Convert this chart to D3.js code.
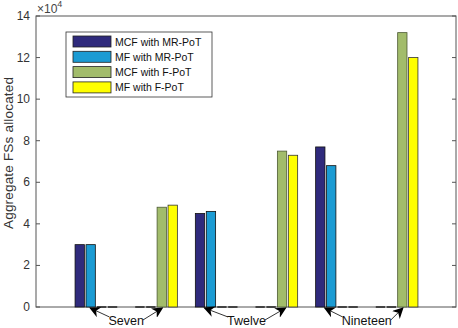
<!DOCTYPE html>
<html>
<head>
<meta charset="utf-8">
<script src="https://cdn.jsdelivr.net/npm/d3@7"></script>
<style>
  body { margin: 0; background: #fff; }
  text { font-family: "Liberation Sans", Arial, sans-serif; }
</style>
</head>
<body>
<svg id="chart" width="458" height="328"></svg>
<script>
// values are in units of 10^4 FSs
const categories = ['Seven', 'Twelve', 'Nineteen']
const seriesNames = ['MCF with MR-PoT', 'MF with MR-PoT', 'MCF with F-PoT', 'MF with F-PoT']
const mcfMR = [3.0, 4.5, 7.7]
const mfMR = [3.0, 4.6, 6.8]
const mcfF = [4.8, 7.5, 13.2]
const mfF = [4.9, 7.3, 12.0]
const yTicks = [0, 2, 4, 6, 8, 10, 12, 14]

const colorFills = ['#2f2a7c', '#1b9bd3', '#a2bc6b', '#ffff00']
const edgeColors = ['#111', '#111', '#4c5a33', '#333']

const margin = { left: 36, right: 457, top: 16, bottom: 307 }
const svg = d3.select('#chart')

const x = d3.scaleLinear().domain([0, 7]).range([margin.left, margin.right])
const y = d3.scaleLinear().domain([0, 14]).range([margin.bottom, margin.top])

// each category gets an MR-PoT group and an F-PoT group
const groups = []
categories.forEach((c, i) => {
  groups.push({ pos: 2 * i + 1, vals: [mcfMR[i], mfMR[i], 0, 0] })
  groups.push({ pos: 2 * i + 2, vals: [0, 0, mcfF[i], mfF[i]] })
})

const pitch = 0.182
const barW = 0.155
const bars = []
groups.forEach((g) => {
  g.vals.forEach((v, k) => {
    bars.push({ x0: g.pos + (k - 1.5) * pitch - barW / 2, v, k })
  })
})

// axes box
svg.append('rect')
  .attr('x', margin.left).attr('y', margin.top)
  .attr('width', margin.right - margin.left - 1)
  .attr('height', margin.bottom - margin.top)
  .attr('fill', 'none').attr('stroke', '#555').attr('stroke-width', 1)

// y ticks inward, left and right
const tickLen = 4
yTicks.forEach((t) => {
  svg.append('line')
    .attr('x1', margin.left).attr('x2', margin.left + tickLen)
    .attr('y1', y(t)).attr('y2', y(t)).attr('stroke', '#555')
  svg.append('line')
    .attr('x1', margin.right - 1).attr('x2', margin.right - 1 - tickLen)
    .attr('y1', y(t)).attr('y2', y(t)).attr('stroke', '#555')
  svg.append('text')
    .attr('x', margin.left - 6).attr('y', y(t) + 4)
    .attr('text-anchor', 'end').attr('font-size', 12).attr('fill', '#333')
    .text(t)
})

// exponent
const expo = svg.append('text').attr('x', 37).attr('y', 13)
  .attr('font-size', 12).attr('fill', '#444')
expo.append('tspan').text('\u00d710')
expo.append('tspan').attr('dy', -6).attr('font-size', 9).text('4')

// bars
svg.append('g').selectAll('rect')
  .data(bars.filter((b) => b.v > 0))
  .enter()
  .append('rect')
  .attr('x', (d) => x(d.x0))
  .attr('y', (d) => y(d.v))
  .attr('width', (d) => x(d.x0 + barW) - x(d.x0))
  .attr('height', (d) => y(0) - y(d.v))
  .attr('fill', (d) => colorFills[d.k])
  .attr('stroke', (d) => edgeColors[d.k])
  .attr('stroke-width', 0.8)

// zero height bars show up as black dashes on the baseline
svg.append('g').selectAll('line')
  .data(bars.filter((b) => b.v === 0))
  .enter()
  .append('line')
  .attr('x1', (d) => x(d.x0))
  .attr('x2', (d) => x(d.x0 + barW))
  .attr('y1', y(0)).attr('y2', y(0))
  .attr('stroke', '#000').attr('stroke-width', 1.2)

// y label
svg.append('text')
  .attr('transform', 'translate(13,' + 153 + ') rotate(-90)')
  .attr('text-anchor', 'middle').attr('font-size', 13.5).attr('fill', '#333')
  .attr('textLength', 152).attr('lengthAdjust', 'spacing')
  .text('Aggregate FSs allocated')

// legend
const lg = svg.append('g')
lg.append('rect')
  .attr('x', 66).attr('y', 32).attr('width', 146).attr('height', 65)
  .attr('fill', '#fff').attr('stroke', '#333').attr('stroke-width', 0.8)
seriesNames.forEach((s, k) => {
  const yy = 36 + k * 15.3
  lg.append('rect')
    .attr('x', 73).attr('y', yy).attr('width', 38).attr('height', 11)
    .attr('fill', colorFills[k]).attr('stroke', '#222').attr('stroke-width', 0.8)
  lg.append('text')
    .attr('x', 115).attr('y', yy + 9.5)
    .attr('font-size', 10.5).attr('fill', '#111')
    .text(s)
})

// category annotations with arrows
svg.append('defs').append('marker')
  .attr('id', 'head')
  .attr('viewBox', '0 0 10 10')
  .attr('refX', 9).attr('refY', 5)
  .attr('markerWidth', 11).attr('markerHeight', 11)
  .attr('markerUnits', 'userSpaceOnUse')
  .attr('orient', 'auto')
  .append('path')
  .attr('d', 'M0,0 L10,5 L0,10 L3,5 Z')
  .attr('fill', '#000')

const tips = [
  [-0.1, 0.1],
  [-0.2, 0.15],
  [-0.2, 0.1]
]
categories.forEach((c, i) => {
  const mid = x(2 * i + 1.5)
  const t = svg.append('text')
    .attr('x', mid).attr('y', 325)
    .attr('text-anchor', 'middle').attr('font-size', 12.5).attr('fill', '#111')
    .text(c)
  const w = t.node().getComputedTextLength()
  const lx = x(2 * i + 1 + tips[i][0])
  const rx = x(2 * i + 2 + tips[i][1])
  svg.append('line')
    .attr('x1', mid - w / 2 + 1).attr('y1', 317)
    .attr('x2', lx).attr('y2', 308)
    .attr('stroke', '#000').attr('stroke-width', 0.8)
    .attr('marker-end', 'url(#head)')
  svg.append('line')
    .attr('x1', mid + w / 2 - 1).attr('y1', 320)
    .attr('x2', rx).attr('y2', 308)
    .attr('stroke', '#000').attr('stroke-width', 0.8)
    .attr('marker-end', 'url(#head)')
})
</script>
</body>
</html>
